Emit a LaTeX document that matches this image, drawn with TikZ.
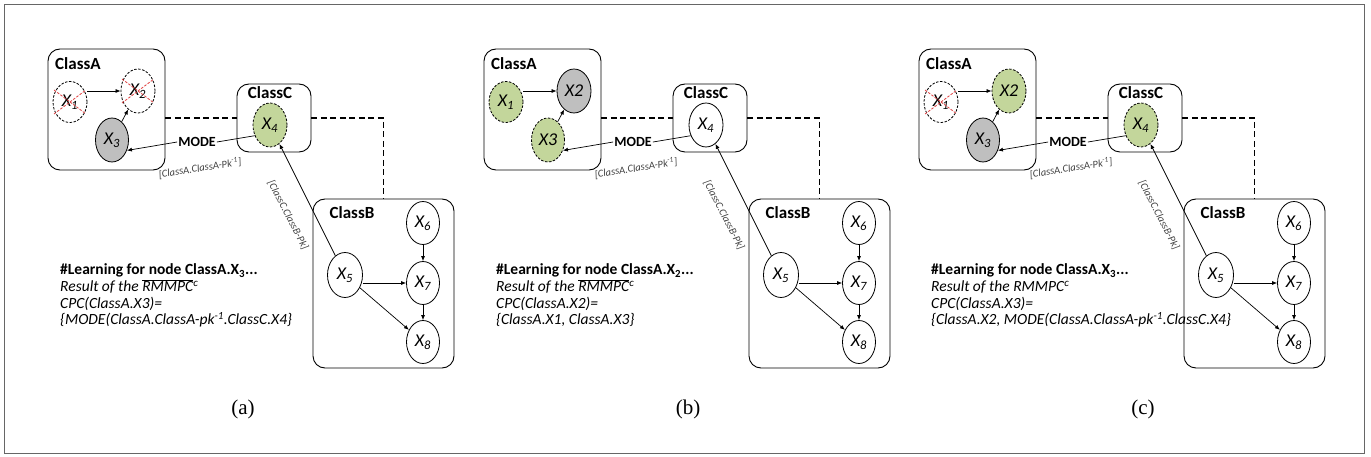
\documentclass[tikz,border=0pt]{standalone}
\usepackage{fontspec}
\setmainfont{Carlito}
\newfontfamily\capfont{Liberation Serif}
\usetikzlibrary{arrows.meta,calc,shapes.geometric}
\definecolor{nodegreen}{HTML}{C3D69B}
\definecolor{nodegray}{HTML}{BFBFBF}
\definecolor{crossred}{HTML}{E03C3C}
\tikzset{
  classbox/.style={draw, rounded corners=12pt, line width=0.9pt, inner sep=0},
  classlabel/.style={inner sep=0, font=\fontsize{17}{17}\selectfont\bfseries},
  var/.style={ellipse, draw, line width=0.8pt, inner sep=0, minimum width=34pt, minimum height=44pt, font=\fontsize{18}{18}\selectfont\itshape},
  plainv/.style={var, fill=white},
  grayv/.style={var, fill=nodegray},
  greenv/.style={var, fill=nodegreen, dash pattern=on 2.5pt off 1.5pt},
  crossv/.style={var, fill=white, dash pattern=on 2.5pt off 1.5pt},
  crossline/.style={draw=crossred, line width=0.8pt, dash pattern=on 2.5pt off 1.5pt},
  conn/.style={draw, line width=0.7pt},
  arr/.style={conn, -{Latex[length=5pt,width=4pt]}},
  dashedconn/.style={draw, line width=1.1pt, dash pattern=on 6pt off 3.5pt},
  modelabel/.style={inner sep=1pt, font=\fontsize{14}{14}\selectfont\bfseries},
  edgelab/.style={inner sep=0, text=black!75, font=\fontsize{10.5}{10.5}\selectfont\itshape},
  tbold/.style={anchor=base west, inner sep=0, font=\fontsize{15.5}{16}\selectfont\bfseries},
  tital/.style={anchor=base west, inner sep=0, font=\fontsize{15.5}{16}\selectfont\itshape},
  capstyle/.style={anchor=base, inner sep=0, font=\fontsize{21}{21}\capfont},
}
\newcommand\drawpanel[3]{%
  \node[classbox, minimum width=117pt, minimum height=121pt] (#1-A) at (106.5,109.5) {};
  \node[classlabel, anchor=west] (#1-Alab) at (55,64) {ClassA};
  \node[classbox, minimum width=74pt, minimum height=68pt] (#1-C) at (274,118) {};
  \node[classlabel] (#1-Clab) at (270,93) {ClassC};
  \node[classbox, minimum width=141pt, minimum height=169pt] (#1-B) at (383.5,283.5) {};
  \node[classlabel] (#1-Blab) at (352,213) {ClassB};
  \node[x1s, minimum height=41pt] (#1-X1) at (70,102) {X\textsubscript{1}};
  \node[x2s] (#1-X2) at (138,91) {#2};
  \node[x3s, minimum width=33pt] (#1-X3) at (112,140) {#3};
  \node[x4s] (#1-X4) at (270,125) {X\textsubscript{4}};
  \node[plainv, minimum width=35pt, minimum height=45pt] (#1-X5) at (345,275) {X\textsubscript{5}};
  \node[plainv, minimum width=33pt, minimum height=43pt] (#1-X6) at (423,223) {X\textsubscript{6}};
  \node[plainv, minimum width=33pt, minimum height=43pt] (#1-X7) at (423,283) {X\textsubscript{7}};
  \node[plainv, minimum width=33pt, minimum height=43pt] (#1-X8) at (423,342) {X\textsubscript{8}};
  \node[modelabel] (#1-M) at (197,142) {MODE};
  \draw[dashedconn] (#1-A.east |- #1-C.west) -- (#1-C.west);
  \draw[dashedconn] (#1-C.east) -| (#1-B.north);
  \draw[arr] (#1-X1.east |- #1-X2.west) -- (#1-X2.west);
  \draw[arr] (#1-X3) -- (#1-X2);
  \draw[conn] (#1-X4.215) -- (#1-M.east);
  \draw[arr] (#1-M.west) -- (#1-X3.-35);
  \draw[arr] (#1-X5) -- (#1-X4);
  \draw[arr] (#1-X6) -- (#1-X7);
  \draw[arr] (#1-X5.east |- #1-X7.west) -- (#1-X7.west);
  \draw[arr] (#1-X5) -- (#1-X8);
  \draw[arr] (#1-X7) -- (#1-X8);
  \node[edgelab, rotate=9] (#1-L1) at (200,168) {[ClassA.ClassA-Pk\textsuperscript{-1}]};
  \node[edgelab, rotate=-62.6] (#1-L2) at (288,215) {[ClassC.ClassB-Pk]};
}
\newcommand\crossout[1]{%
  \draw[crossline] ($(#1)+(-16,-12)$) -- ($(#1)+(16,12)$);
  \draw[crossline] ($(#1)+(-16,12)$) -- ($(#1)+(16,-12)$);
}
\begin{document}
\begin{tikzpicture}[x=1pt, y=-1pt]
\useasboundingbox (0,0) rectangle (1371,457);
\draw[draw=black!60, line width=1.5pt] (4.5,4.5) rectangle (1364.5,453.5);

% panel (a)
\begin{scope}[x1s/.style={crossv}, x2s/.style={crossv}, x3s/.style={grayv}, x4s/.style={greenv}]
  \drawpanel{a}{X\textsubscript{2}}{X\textsubscript{3}}
  \crossout{a-X1}
  \crossout{a-X2}
  \node[tbold] (a-t1) at (60,275) {\#Learning for node ClassA.X\textsubscript{3}...};
  \node[tital] (a-t2) at (60,291.5) {Result of the $\overline{\mbox{\itshape RMMPC}}$\textsuperscript{c}};
  \node[tital] (a-t3) at (60,308) {CPC(ClassA.X3)=};
  \node[tital] (a-t4) at (60,324.5) {\{MODE(ClassA.ClassA-pk\textsuperscript{-1}.ClassC.X4\}};
  \node[capstyle] (a-cap) at (243,414) {(a)};
\end{scope}

% panel (b)
\begin{scope}[xshift=436pt, x1s/.style={greenv, minimum width=34pt}, x2s/.style={grayv}, x3s/.style={greenv}, x4s/.style={plainv}]
  \drawpanel{b}{X2}{X3}
  \node[tbold] (b-t1) at (60,275) {\#Learning for node ClassA.X\textsubscript{2}...};
  \node[tital] (b-t2) at (60,291.5) {Result of the $\overline{\mbox{\itshape RMMPC}}$\textsuperscript{c}};
  \node[tital] (b-t3) at (60,308) {CPC(ClassA.X2)=};
  \node[tital] (b-t4) at (60,324.5) {\{ClassA.X1, ClassA.X3\}};
  \node[capstyle] (b-cap) at (252,414) {(b)};
\end{scope}

% panel (c)
\begin{scope}[xshift=871pt, x1s/.style={crossv}, x2s/.style={greenv}, x3s/.style={grayv}, x4s/.style={greenv}]
  \drawpanel{c}{X2}{X\textsubscript{3}}
  \crossout{c-X1}
  \node[tbold] (c-t1) at (60,275) {\#Learning for node ClassA.X\textsubscript{3}...};
  \node[tital] (c-t2) at (60,291.5) {Result of the RMMPC\textsuperscript{c}};
  \node[tital] (c-t3) at (60,308) {CPC(ClassA.X3)=};
  \node[tital] (c-t4) at (60,324.5) {\{ClassA.X2, MODE(ClassA.ClassA-pk\textsuperscript{-1}.ClassC.X4\}};
  \node[capstyle] (c-cap) at (272,414) {(c)};
\end{scope}
\end{tikzpicture}
\end{document}
